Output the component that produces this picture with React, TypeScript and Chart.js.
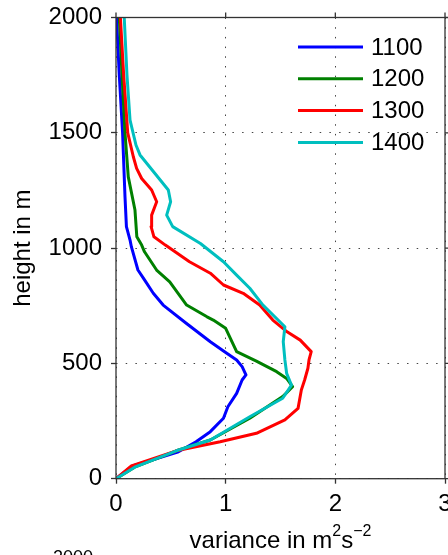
import React, { useEffect, useRef } from 'react';
import { Chart, registerables } from 'chart.js';

Chart.register(...registerables);

const FONT = "'Liberation Sans', Arial, Helvetica, sans-serif";

const seriesLabels = ['1100', '1200', '1300', '1400'];
const seriesColors = ['#0000ff', '#008000', '#ff0000', '#00bfbf'];

// heights (m) and variances (m^2 s^-2)
const h1100 = [0, 55, 117, 160, 204, 262, 312, 370, 428, 450, 486, 515, 551, 594, 674, 753, 804, 862, 905, 1006, 1035, 1093, 1223, 1500, 1750, 2000];
const v1100 = [0, 0.15, 0.57, 0.73, 0.86, 0.98, 1.02, 1.1, 1.15, 1.185, 1.15, 1.1, 0.99, 0.86, 0.64, 0.43, 0.34, 0.26, 0.2, 0.14, 0.128, 0.095, 0.082, 0.06, 0.03, 0.005];

const h1200 = [0, 50, 121, 168, 262, 356, 399, 435, 464, 510, 551, 652, 688, 702, 753, 854, 905, 984, 1013, 1049, 1165, 1309, 1500, 1750, 2000];
const v1200 = [0, 0.17, 0.55, 0.86, 1.22, 1.52, 1.61, 1.556, 1.465, 1.28, 1.1, 1.0, 0.887, 0.83, 0.644, 0.49, 0.37, 0.26, 0.234, 0.19, 0.173, 0.112, 0.082, 0.055, 0.03];

const h1300 = [0, 55, 121, 160, 197, 255, 305, 385, 428, 479, 515, 551, 601, 637, 688, 753, 804, 840, 891, 941, 1013, 1049, 1093, 1143, 1201, 1252, 1302, 1346, 1396, 1500, 1750, 2000];
const v1300 = [0, 0.14, 0.55, 0.95, 1.28, 1.54, 1.66, 1.69, 1.72, 1.75, 1.76, 1.78, 1.68, 1.56, 1.43, 1.31, 1.16, 0.98, 0.86, 0.67, 0.45, 0.346, 0.32, 0.325, 0.371, 0.325, 0.234, 0.188, 0.158, 0.107, 0.07, 0.04];

const h1400 = [0, 50, 121, 168, 269, 349, 406, 457, 515, 594, 659, 753, 826, 883, 941, 1020, 1093, 1143, 1201, 1252, 1404, 1447, 1555, 1750, 2000];
const v1400 = [0, 0.17, 0.55, 0.86, 1.22, 1.52, 1.6, 1.556, 1.54, 1.525, 1.54, 1.34, 1.22, 1.1, 0.98, 0.77, 0.517, 0.462, 0.498, 0.477, 0.219, 0.182, 0.128, 0.1, 0.075];

const seriesHeights = [h1100, h1200, h1300, h1400];
const seriesValues = [v1100, v1200, v1300, v1400];

const xTicks = [0, 1, 2, 3];
const yTicks = [0, 500, 1000, 1500, 2000];

const xTitle = 'variance in m';
const xTitleSup1 = '2';
const xTitleMid = 's';
const xTitleSup2 = '\u22122';
const yTitle = 'height in m';
const footText = '2000';

const AXIS = '#333333';

const framePlugin = {
  id: 'frameLegend',
  afterDatasetsDraw(chart: any) {
    const { ctx, chartArea } = chart;
    const { left, right, top, bottom } = chartArea;
    ctx.save();
    ctx.setLineDash([]);
    ctx.strokeStyle = AXIS;
    ctx.lineWidth = 1.3;
    ctx.strokeRect(left, top, right - left, bottom - top);
    // outward ticks on top and right
    const xs = chart.scales.x;
    const ys = chart.scales.y;
    ctx.beginPath();
    xs.ticks.forEach((t: any) => {
      const px = xs.getPixelForValue(t.value);
      ctx.moveTo(px, top);
      ctx.lineTo(px, top - 5);
    });
    ys.ticks.forEach((t: any) => {
      const py = ys.getPixelForValue(t.value);
      ctx.moveTo(right, py);
      ctx.lineTo(right + 5, py);
    });
    ctx.stroke();

    // legend
    ctx.font = `24px ${FONT}`;
    ctx.textBaseline = 'middle';
    ctx.textAlign = 'left';
    chart.data.datasets.forEach((ds: any, i: number) => {
      const y = 47 + i * 31.8;
      ctx.strokeStyle = ds.borderColor;
      ctx.lineWidth = 3;
      ctx.beginPath();
      ctx.moveTo(298, y);
      ctx.lineTo(363, y);
      ctx.stroke();
      ctx.fillStyle = '#000';
      ctx.fillText(ds.label, 371, y + 1);
    });

    // x axis title with superscripts
    const big = `24px ${FONT}`;
    const small = `16px ${FONT}`;
    ctx.textBaseline = 'alphabetic';
    ctx.font = big;
    const w1 = ctx.measureText(xTitle).width;
    const w3 = ctx.measureText(xTitleMid).width;
    ctx.font = small;
    const w2 = ctx.measureText(xTitleSup1).width;
    const w4 = ctx.measureText(xTitleSup2).width;
    const total = w1 + w2 + w3 + w4;
    const cx = (left + right) / 2;
    let x = cx - total / 2;
    const base = 548;
    ctx.fillStyle = '#000';
    ctx.font = big;
    ctx.fillText(xTitle, x, base);
    x += w1;
    ctx.font = small;
    ctx.fillText(xTitleSup1, x, base - 12);
    x += w2;
    ctx.font = big;
    ctx.fillText(xTitleMid, x, base);
    x += w3;
    ctx.font = small;
    ctx.fillText(xTitleSup2, x, base - 12);

    // partially visible caption at the bottom edge
    ctx.font = `18px ${FONT}`;
    ctx.fillText(footText, 53, 563);
    ctx.restore();
  },
};

export default function App() {
  const ref = useRef<HTMLCanvasElement>(null);
  useEffect(() => {
    if (!ref.current) return;
    const datasets = seriesLabels.map((label, i) => ({
      label,
      data: seriesHeights[i].map((h, j) => ({ x: seriesValues[i][j], y: h })),
      borderColor: seriesColors[i],
      backgroundColor: seriesColors[i],
      borderWidth: 3,
      pointRadius: 0,
      pointHoverRadius: 0,
      showLine: true,
      fill: false,
      tension: 0,
      order: 4 - i,
      borderJoinStyle: 'round' as const,
    }));
    const chart = new Chart(ref.current, {
      type: 'scatter',
      data: { datasets },
      options: {
        animation: false,
        responsive: false,
        devicePixelRatio: 1,
        layout: { padding: { top: 17.5, right: 3, left: 0, bottom: 0 } },
        plugins: { legend: { display: false }, tooltip: { enabled: false } },
        scales: {
          x: {
            type: 'linear',
            min: 0,
            max: 3,
            afterBuildTicks: (s: any) => {
              s.ticks = xTicks.map((v) => ({ value: v }));
            },
            ticks: {
              font: { family: FONT, size: 24 },
              color: '#000',
              padding: 6,
              maxRotation: 0,
              autoSkip: false,
              callback: (v: any) => String(v),
            },
            grid: {
              color: '#444',
              lineWidth: 1,
              drawTicks: true,
              tickLength: 5,
              tickColor: AXIS,
              tickWidth: 1.3,
              tickBorderDash: [],
            },
            border: { display: false, dash: [1.5, 8.2] },
            afterFit: (s: any) => {
              s.height = 76.3;
              s.paddingLeft = 0;
              s.paddingRight = 0;
            },
          },
          y: {
            type: 'linear',
            min: 0,
            max: 2000,
            afterBuildTicks: (s: any) => {
              s.ticks = yTicks.map((v) => ({ value: v }));
            },
            ticks: {
              font: { family: FONT, size: 24 },
              color: '#000',
              padding: 9,
              autoSkip: false,
              callback: (v: any) => String(v),
            },
            grid: {
              color: '#444',
              lineWidth: 1,
              drawTicks: true,
              tickLength: 5,
              tickColor: AXIS,
              tickWidth: 1.3,
              tickBorderDash: [],
            },
            border: { display: false, dash: [1.5, 8.2] },
            title: {
              display: true,
              text: yTitle,
              font: { family: FONT, size: 24 },
              color: '#000',
              padding: { top: 9, bottom: 0 },
            },
            afterFit: (s: any) => {
              s.width = 116;
              s.paddingTop = 0;
              s.paddingBottom = 0;
            },
          },
        },
      },
      plugins: [framePlugin],
    } as any);
    return () => chart.destroy();
  }, []);
  return (
    <div style={{ position: 'absolute', left: 0, top: 0, width: 448, height: 555, background: '#fff' }}>
      <canvas ref={ref} width={448} height={555} style={{ display: 'block', width: 448, height: 555 }} />
    </div>
  );
}
